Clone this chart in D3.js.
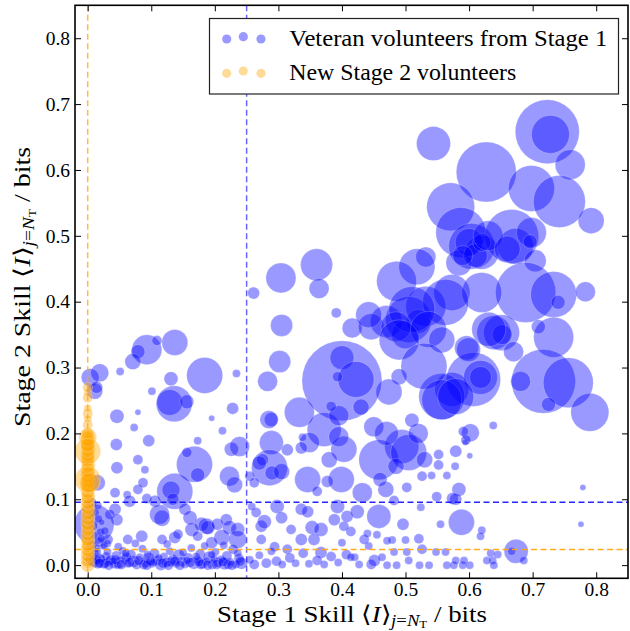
<!DOCTYPE html>
<html><head><meta charset="utf-8">
<script src="https://cdn.jsdelivr.net/npm/d3@7/dist/d3.min.js"></script>
<style>body{margin:0;background:#fff}svg{display:block}
svg text, svg tspan{font-family:"Liberation Serif", serif !important}</style>
</head><body>
<svg id="chart" width="630" height="631"></svg>
<script>
// ---- data: [stage1 skill, stage2 skill, weight (bubble area)] ----
const veteranUpper = [
[.723,.658,1024],[.728,.654,361],[.759,.608,225],[.544,.640,289],[.627,.597,900],[.698,.572,529],[.742,.552,676],[.792,.523,169],[.571,.544,576],[.587,.505,625],[.604,.484,529],[.620,.475,289],[.667,.499,729],[.673,.484,324],[.698,.505,225],[.696,.491,49],[.704,.462,121],[.532,.468,100],[.584,.459,169],[.518,.453,324],[.486,.431,400],[.573,.414,324],[.532,.393,400],[.505,.373,529],[.689,.414,900],[.733,.411,529],[.783,.415,100],[.740,.399,49],[.639,.353,289],[.620,.414,400],[.563,.399,529],[.651,.353,324],[.652,.350,100],[.631,.358,289],[.733,.346,400],[.709,.362,49],[.670,.324,100],[.596,.330,144],[.717,.279,1024],[.756,.277,625],[.790,.232,361],[.681,.279,100],[.725,.244,49],[.607,.282,729],[.618,.285,289],[.618,.285,121],[.573,.267,289],[.557,.256,529],[.638,.212,16],[.602,.201,81],[.591,.203,25],[.594,.186,9],
[.600,.490,196],[.610,.470,144],[.590,.470,100],[.620,.490,81],[.630,.500,225],[.660,.480,169],
[.470,.370,256],[.500,.350,196],[.520,.370,144]
];
const veteranMiddle = [
[.360,.456,256],[.364,.420,100],[.391,.383,25],[.416,.360,100],[.446,.362,169],[.510,.388,529],[.485,.362,225],[.536,.358,324],[.490,.342,400],[.557,.342,169],[.529,.302,529],[.490,.286,64],[.474,.263,169],[.557,.251,400],[.599,.327,144],[.400,.280,1600],[.400,.315,144],[.422,.282,324],[.333,.232,225],[.372,.206,289],[.403,.176,169],[.395,.227,100],[.494,.180,289],[.458,.160,400],[.505,.171,324],[.579,.256,324],[.579,.173,36],[.584,.115,49],[.458,.074,144],[.588,.065,169],[.674,.021,144],[.779,.118,9],[.776,.062,9],[.442,.380,169],
[.349,.186,100],[.380,.160,64],[.432,.110,100],[.469,.115,64],[.485,.150,64],[.460,.130,49],[.520,.200,100],[.530,.160,64],[.510,.220,49],[.430,.240,64],[.450,.210,100],[.470,.200,144]
];
const veteranLeft = [
[.137,.338,169],[.093,.327,225],[.079,.324,49],[.109,.341,25],[.071,.309,64],[.019,.292,81],[.004,.285,81],[.011,.264,64],[.051,.294,16],[.184,.288,324],[.234,.291,16],[.131,.283,49],[.101,.264,16],[.136,.245,324],[.129,.247,169],[.156,.248,49],[.228,.238,36],[.195,.223,9],[.079,.232,9],[.046,.226,49],[.073,.209,16],[.212,.204,16],[.096,.189,36],[.173,.189,16],[.045,.183,36],[.168,.153,324],[.156,.171,25],[.226,.176,49],[.239,.180,100],[.305,.364,121],[.302,.309,121],[.283,.279,100],[.289,.221,49],[.289,.186,144],[.383,.241,25],[.395,.195,100],[.338,.194,16],[.393,.286,25],[.173,.137,49],[.286,.148,324],[.290,.140,49],[.275,.160,36],[.137,.112,324],[.131,.114,81],[.223,.135,100],[.231,.122,64],[.346,.130,169],[.399,.130,169],[.079,.160,25],[.046,.148,36],[.255,.135,25],[.285,.221,81],[.187,.059,64],[.261,.413,36],[.304,.436,225],[.090,.145,16]
];
const veteranLow = [
[.043,.110,25],[.062,.107,16],[.079,.115,25],[.093,.101,25],[.066,.097,36],[.106,.097,36],[.087,.125,25],[.134,.100,36],[.153,.085,36],[.161,.072,49],[.117,.071,64],[.113,.077,100],[.043,.085,36],[.035,.077,25],[.046,.069,36],[.179,.062,49],[.189,.057,49],[.204,.062,36],[.218,.069,36],[.223,.057,49],[.236,.054,49],[.211,.042,64],[.236,.039,81],[.195,.034,36],[.164,.054,49],[.173,.044,25],[.137,.042,36],[.142,.047,25],[.117,.039,25],[.085,.044,36],[.063,.039,25],[.032,.039,25],[.048,.028,16],[.273,.059,36],[.273,.039,25],[.265,.080,25],[.258,.089,16],[.278,.066,49],[.298,.089,49],[.305,.072,36],[.320,.054,25],[.336,.085,36],[.346,.081,36],[.353,.057,49],[.367,.054,49],[.356,.039,36],[.388,.069,36],[.393,.089,49],[.408,.074,36],[.336,.039,36],[.314,.024,25],[.294,.028,25],[.367,.019,36],[.262,.125,25],[.305,.142,64],[.270,.155,49],[.314,.175,36],[.336,.178,36],[.377,.127,36],[.361,.112,25],
[.010,.062,400],[.006,.030,25],[.010,.045,16],[.008,.060,25],[.012,.080,16],[.006,.095,25],[.015,.020,16],[.018,.035,25],[.009,.012,16],[.020,.050,16],[.024,.028,9],[.005,.075,16],[.016,.090,16],[.022,.065,9],[.015,.125,64],[.014,.270,36],
[.004,.008,25],[.011,.004,25],[.019,.010,25],[.025,.002,25],[.014,.026,16],[.029,.014,16],[.033,.006,25],[.021,.040,16],[.027,.052,16],[.031,.033,16],[.017,.070,16]
];
const veteranBand = [
[.008,.005,25],[.012,.018,16],[.016,.002,25],[.022,.010,16],[.027,.003,25],[.031,.020,16],[.036,.008,25],[.041,.001,16],[.045,.014,25],[.050,.004,36],[.055,.022,16],[.058,.009,25],[.063,.002,16],[.068,.016,25],[.072,.006,36],[.077,.001,25],[.082,.012,16],[.086,.025,16],[.091,.004,25],[.096,.010,36],[.101,.002,16],[.105,.018,25],[.110,.007,25],[.115,.001,36],[.120,.013,16],[.124,.004,25],[.129,.021,16],[.134,.009,25],[.139,.002,16],[.143,.015,36],[.148,.005,25],[.153,.001,16],[.158,.011,25],[.163,.026,16],[.167,.003,36],[.172,.008,16],[.177,.017,25],[.181,.002,25],[.186,.006,16],[.191,.012,36],[.196,.001,25],[.201,.020,16],[.205,.004,25],[.210,.009,16],[.215,.002,36],[.219,.014,25],[.224,.005,16],[.229,.024,25],[.233,.001,16],[.238,.010,25],[.242,.003,36],
[.014,.008,25],[.039,.006,16],[.061,.012,25],[.088,.001,25],[.112,.011,16],[.131,.005,25],[.156,.007,16],[.178,.001,25],[.199,.009,16],[.221,.001,25],[.047,.000,16],[.104,.004,16],[.171,.013,16],[.236,.018,16],[.026,.030,16],[.075,.033,16],[.125,.032,16],[.184,.029,16],[.214,.030,16],
[.019,.003,25],[.033,.000,25],[.044,.008,25],[.053,.001,25],[.066,.004,25],[.080,.007,25],[.093,.000,25],[.099,.006,25],[.118,.003,25],[.127,.000,25],[.137,.006,25],[.145,.000,25],[.161,.004,25],[.175,.005,25],[.189,.000,25],[.203,.001,25],[.213,.005,25],[.227,.000,25],[.240,.006,25],[.060,.018,16],[.094,.016,16],[.150,.019,16],[.195,.016,16],
[.255,.008,16],[.262,.001,25],[.270,.015,16],[.281,.003,25],[.289,.021,16],[.297,.006,25],[.306,.001,16],[.318,.011,25],[.327,.003,16],[.339,.018,25],[.348,.002,16],[.361,.007,25],[.372,.001,16],[.383,.013,25],[.394,.004,16],
[.420,.012,16],[.427,.001,16],[.446,.001,25],[.451,.007,36],[.463,.012,16],[.471,.000,16],[.486,.000,16],[.505,.007,16],[.522,.000,16],[.537,.000,16],[.565,.000,16],[.576,.000,16],[.579,.007,16],[.590,.000,16],[.592,.007,16],[.601,.000,16],[.628,.007,16],[.637,.007,16],[.639,.000,16],[.634,.018,16],[.645,.016,16],[.686,.007,16],[.667,.021,16],[.407,.016,25],[.414,.012,16],
[.400,.034,16],[.442,.029,16],[.482,.020,16],[.502,.020,16],[.526,.024,25],[.548,.020,16],[.563,.020,16],[.435,.039,25],[.440,.048,16],[.414,.051,25],[.403,.059,25],[.479,.038,16],[.500,.038,16],[.521,.040,25],[.555,.062,16],[.424,.081,49],[.496,.062,36],[.524,.088,16],[.482,.098,25],[.579,.100,36],[.549,.104,25],[.574,.101,36],[.502,.118,25],[.526,.135,25],[.541,.136,16],[.565,.136,16],[.552,.152,25],[.578,.150,16],[.552,.168,25],[.601,.166,9],[.595,.190,25],[.620,.053,16],[.618,.044,16],[.455,.046,16],[.471,.037,16]
];
const newVolunteers = [
[.000,.000,49],[.001,.004,36],[.000,.008,49],[.001,.012,36],[.000,.016,49],[.001,.020,36],[.000,.024,49],[.000,.028,36],[.001,.032,49],[.000,.036,36],[.000,.040,49],[.001,.044,36],[.000,.048,49],[.000,.052,36],[.001,.056,49],[.000,.060,36],[.000,.064,49],[.001,.068,36],[.000,.072,49],[.000,.076,36],[.001,.080,49],[.000,.084,36],[.000,.088,49],[.001,.092,36],[.000,.096,49],[.000,.100,36],[.001,.104,49],[.000,.108,36],[.000,.112,49],[.001,.116,36],[.000,.120,49],[.000,.124,36],[.001,.128,49],[.000,.132,36],[.000,.136,49],[.001,.140,36],[.000,.144,49],[.000,.148,36],[.001,.152,49],[.000,.156,36],[.000,.160,49],[.001,.164,36],[.000,.168,49],[.000,.172,36],[.001,.176,49],[.000,.180,36],[.000,.184,49],[.001,.188,36],[.000,.192,49],[.000,.196,36],[.000,.200,36],
[.000,.130,169],[.003,.125,100],[.000,.173,169],[.000,.194,81],[.000,.182,49],[.000,.230,25],[.000,.213,25],[.000,.238,16],[.000,.254,25],[.000,.262,16],[.000,.270,25],[.000,.222,16]
];
const xTicks = [0.0,0.1,0.2,0.3,0.4,0.5,0.6,0.7,0.8];
const yTicks = [0.0,0.1,0.2,0.3,0.4,0.5,0.6,0.7,0.8];
const stage1Cutoff = 0.25, veteranMeanStage2 = 0.0956, newMeanStage2 = 0.0238, newMeanStage1 = 0.0;
const legendLabels = ["Veteran volunteers from Stage 1", "New Stage 2 volunteers"];

const veterans = [].concat(veteranUpper, veteranMiddle, veteranLeft, veteranLow, veteranBand);

// ---- layout ----
const L = 75, R = 628, T = 5.3, B = 578.3;
const x = d3.scaleLinear().domain([-0.02, 0.85]).range([L, R]);
const y = d3.scaleLinear().domain([-0.02, 0.85]).range([B, T]);
const rScale = d3.scaleSqrt().domain([0, 1600]).range([0, 40]);
const BLUE = "#0000ff", ORANGE = "#ffa500";

const svg = d3.select("#chart");
svg.append("defs").append("clipPath").attr("id","clip")
  .append("rect").attr("x",L).attr("y",T).attr("width",R-L).attr("height",B-T);
const plot = svg.append("g").attr("clip-path","url(#clip)");

function bubbles(data, color) {
  plot.append("g").selectAll("circle").data(data).join("circle")
    .attr("cx", d => x(d[0])).attr("cy", d => y(d[1])).attr("r", d => rScale(d[2]))
    .attr("fill", color).attr("fill-opacity", 0.4)
    .attr("stroke", "#ffffff").attr("stroke-opacity", 0.35).attr("stroke-width", 0.6);
}
bubbles(veterans, BLUE);

// reference lines
const dash = "6,3.5";
plot.append("line").attr("x1", x(stage1Cutoff)).attr("x2", x(stage1Cutoff)).attr("y1",T).attr("y2",B)
  .attr("stroke", BLUE).attr("stroke-opacity",0.6).attr("stroke-width",1.5).attr("stroke-dasharray",dash);
plot.append("line").attr("x1", x(newMeanStage1)).attr("x2", x(newMeanStage1)).attr("y1",T).attr("y2",B)
  .attr("stroke", ORANGE).attr("stroke-opacity",0.75).attr("stroke-width",1.5).attr("stroke-dasharray",dash);
plot.append("line").attr("x1", L).attr("x2", R).attr("y1",y(veteranMeanStage2)).attr("y2",y(veteranMeanStage2))
  .attr("stroke", BLUE).attr("stroke-opacity",0.85).attr("stroke-width",1.5).attr("stroke-dasharray",dash);
plot.append("line").attr("x1", L).attr("x2", R).attr("y1",y(newMeanStage2)).attr("y2",y(newMeanStage2))
  .attr("stroke", ORANGE).attr("stroke-opacity",0.9).attr("stroke-width",1.5).attr("stroke-dasharray",dash);

bubbles(newVolunteers, ORANGE);

// axes
const fmt = d3.format(".1f");
function styleAxis(g){
  g.attr("font-family", null).attr("font-size", null);
  g.select(".domain").remove();
  g.selectAll(".tick line").attr("stroke","#000").attr("stroke-width",1);
  g.selectAll("text").style("font-size","19.5px").attr("fill","#000");
}
svg.append("g").attr("transform",`translate(0,${B})`)
  .call(d3.axisBottom(x).tickValues(xTicks).tickFormat(fmt).tickSizeInner(-6).tickSizeOuter(0).tickPadding(4)).call(styleAxis);
svg.append("g").attr("transform",`translate(0,${T})`)
  .call(d3.axisTop(x).tickValues(xTicks).tickFormat("").tickSizeInner(-6).tickSizeOuter(0)).call(styleAxis);
svg.append("g").attr("transform",`translate(${L},0)`)
  .call(d3.axisLeft(y).tickValues(yTicks).tickFormat(fmt).tickSizeInner(-6).tickSizeOuter(0).tickPadding(5)).call(styleAxis);
svg.append("g").attr("transform",`translate(${R},0)`)
  .call(d3.axisRight(y).tickValues(yTicks).tickFormat("").tickSizeInner(-6).tickSizeOuter(0)).call(styleAxis);

svg.append("rect").attr("x",L).attr("y",T).attr("width",R-L).attr("height",B-T)
  .attr("fill","none").attr("stroke","#000").attr("stroke-width",1.6);

// axis labels with math
function mathLabel(sel, stageText){
  sel.style("font-size","23px").attr("fill","#000");
  sel.append("tspan").text(stageText + " Skill \u27E8");
  sel.append("tspan").style("font-style","italic").text("I");
  sel.append("tspan").text("\u27E9");
  sel.append("tspan").style("font-size","16px").attr("dy",4).style("font-style","italic").text("j");
  sel.append("tspan").style("font-size","16px").text("=");
  sel.append("tspan").style("font-size","16px").style("font-style","italic").text("N");
  sel.append("tspan").style("font-size","11px").attr("dy",2).text("T");
  sel.append("tspan").attr("dy",-6).text(" / bits");
}
const xl = svg.append("text").attr("x",217).attr("y",622);
mathLabel(xl, "Stage 1");
xl.attr("textLength",270).attr("lengthAdjust","spacingAndGlyphs");
const yl = svg.append("text").attr("transform","translate(30,427) rotate(-90)");
mathLabel(yl, "Stage 2");
yl.attr("textLength",280).attr("lengthAdjust","spacingAndGlyphs");

// legend
const lg = svg.append("g");
lg.append("rect").attr("x",209.5).attr("y",18.5).attr("width",409).attr("height",75.5)
  .attr("fill","#fff").attr("stroke","#222").attr("stroke-width",1.2);
const legendColors = [BLUE, ORANGE];
const dotDx = [0, 16.6, 34.3], dotDy = [0, -2.3, 0];
legendLabels.forEach((lab,i) => {
  const cy = 39 + i*34.3;
  dotDx.forEach((dx,j) => {
    lg.append("circle").attr("cx",226.7+dx).attr("cy",cy+dotDy[j]).attr("r",4.6)
      .attr("fill",legendColors[i]).attr("fill-opacity",0.4);
  });
  lg.append("text").attr("x",289.3).attr("y",45.5 + i*34.3)
    .style("font-size","24px").attr("fill","#000")
    .attr("textLength", i===0 ? 318 : 227).attr("lengthAdjust","spacingAndGlyphs").text(lab);
});
</script>
</body></html>
